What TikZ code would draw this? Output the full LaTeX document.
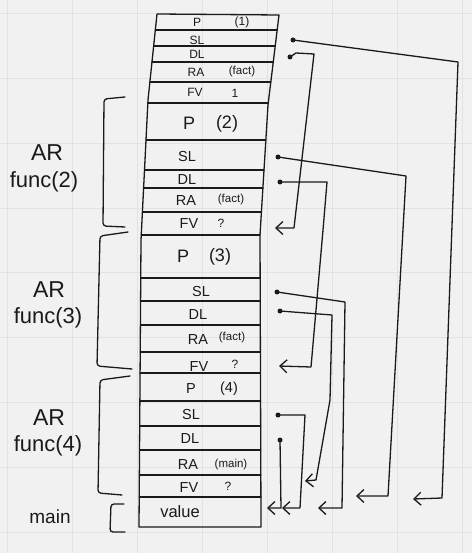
\documentclass[tikz,border=0pt]{standalone}
\usepackage{fontspec}
\setmainfont{Liberation Sans}
\usetikzlibrary{arrows.meta}
\definecolor{bgc}{HTML}{F1F1F1}
\definecolor{gridc}{HTML}{E2E2E2}
\definecolor{inkc}{HTML}{1A1A1A}
\begin{document}
\begin{tikzpicture}[x=1pt,y=-1pt,line join=round,line cap=round,
  stroke/.style={draw=inkc,line width=1.3pt},
  conn/.style={draw=inkc,line width=1.3pt},
  arr/.style={conn,-{Straight Barb[length=7pt,width=13pt]}},
  dotn/.style={circle,fill=inkc,inner sep=0pt,minimum size=5pt},
  txt/.style={inner sep=0pt,text=inkc},
  t1/.style={txt,font=\fontsize{12}{12}\selectfont},
  tm/.style={txt,font=\fontsize{14.5}{14.5}\selectfont},
  tp/.style={txt,font=\fontsize{18}{18}\selectfont},
  ts/.style={txt,font=\fontsize{11.5}{11.5}\selectfont},
  big/.style={txt,font=\fontsize{23}{23}\selectfont},
  mid/.style={txt,font=\fontsize{22}{22}\selectfont},
  brk/.style={stroke,rounded corners=3pt}]
\fill[bgc] (0,0) rectangle (472,553);
\useasboundingbox (0,0) rectangle (472,553);
% grid
\foreach \gx in {7,72,137,202,267,332,397,462}
  \draw[gridc,line width=0.8pt] (\gx,0) -- (\gx,553);
\foreach \gy in {13,78,143,208,272,337,402,467,532}
  \draw[gridc,line width=0.8pt] (0,\gy) -- (472,\gy);
% stack outline
\draw[stroke] (157,14) -- (279,15) -- (268,105) -- (260,235) -- (261,527)
  -- (139,527) -- (141,240) -- (148,100) -- cycle;
% row lines
\foreach \ry/\lx/\rx in {30/155.3/277.1,46/153.7/275.1,62/152/273.2,82/150.1/270.8,
  103/147.9/268.2,140/146/265.8,170/144.5/264,188/143.6/262.9,212/142.4/261.4,
  235/141.3/260,278/140.7/260.1,301/140.6/260.2,325/140.4/260.3,352/140.2/260.4,
  373/140.1/260.5,401/139.9/260.6,426/139.7/260.7,450/139.5/260.8,475/139.4/260.9,
  497/139.2/261}
  \draw[stroke] (\lx,\ry) -- (\rx,\ry);
% frame 1 texts
\node[t1] (f1p) at (197,22) {P};
\node[t1] (f1pn) at (242,22) {(1)};
\node[t1] (f1sl) at (197,40) {SL};
\node[t1] (f1dl) at (197,54) {DL};
\node[t1] (f1ra) at (196,72) {RA};
\node[ts] (f1rai) at (242,72) {(fact)};
\node[t1] (f1fv) at (195,92) {FV};
\node[t1] (f1fvv) at (235,93) {1};
% frame 2 texts
\node[tp] (f2p) at (189,123) {P};
\node[tp] (f2pn) at (227,124) {(2)};
\node[tm] (f2sl) at (187,157) {SL};
\node[tm] (f2dl) at (187,180) {DL};
\node[tm] (f2ra) at (186,201) {RA};
\node[ts] (f2rai) at (231,200) {(fact)};
\node[tm] (f2fv) at (189,224) {FV};
\node[t1] (f2fvv) at (221,223) {?};
% frame 3 texts
\node[tp] (f3p) at (183,256) {P};
\node[tp] (f3pn) at (220,257) {(3)};
\node[tm] (f3sl) at (201,292) {SL};
\node[tm] (f3dl) at (198,315) {DL};
\node[tm] (f3ra) at (198,340) {RA};
\node[ts] (f3rai) at (232,338) {(fact)};
\node[tm] (f3fv) at (199,367) {FV};
\node[t1] (f3fvv) at (235,364) {?};
% frame 4 texts
\node[tm] (f4p) at (191,389) {P};
\node[tm] (f4pn) at (229,389) {(4)};
\node[tm] (f4sl) at (191,415) {SL};
\node[tm] (f4dl) at (190,439) {DL};
\node[tm] (f4ra) at (188,465) {RA};
\node[ts] (f4rai) at (231,465) {(main)};
\node[tm] (f4fv) at (189,488) {FV};
\node[t1] (f4fvv) at (228,486) {?};
\node[txt,font=\fontsize{16.5}{16.5}\selectfont] (val) at (180,512) {value};
% left labels
\node[big] (ar2) at (47,153) {AR};
\node[mid] (fn2) at (44,182) {func(2)};
\node[big] (ar3) at (49,290) {AR};
\node[mid] (fn3) at (48,318) {func(3)};
\node[big] (ar4) at (49,418) {AR};
\node[mid] (fn4) at (48,446) {func(4)};
\node[txt,font=\fontsize{19}{19}\selectfont] (mainl) at (50,517) {main};
% brackets
\draw[brk] (125,97) -- (104,99) -- (103,226) -- (125,227);
\draw[brk] (128,232) -- (100,236) -- (97,366) -- (132,369);
\draw[brk] (130,376) -- (100,380) -- (98,493) -- (122,495);
\draw[brk] (124,504) -- (111,504) -- (110,532) -- (125,532);
% link dots
\node[dotn] (d1s) at (293,40) {};
\node[dotn] (d1d) at (290,57) {};
\node[dotn] (d2s) at (278,157) {};
\node[dotn] (d2d) at (280,182) {};
\node[dotn] (d3s) at (277,292) {};
\node[dotn] (d3d) at (280,311) {};
\node[dotn] (d4s) at (278,415) {};
\node[dotn] (d4d) at (280,440) {};
% arrow ends
\coordinate (e1s) at (413,499);
\coordinate (e1d) at (275,228);
\coordinate (e2s) at (356,496);
\coordinate (e2d) at (279,366);
\coordinate (e3s) at (318,508);
\coordinate (e3d) at (305,481);
\coordinate (e4s) at (282,508);
\coordinate (e4d) at (267,508);
% connectors
\draw[arr] (d1s.center) -- (458,62) -- (442,498) -- (e1s);
\draw[arr] (d1d.center) -- (296,53) -- (314,54) -- (294,228) -- (e1d);
\draw[arr] (d2s.center) -- (406,176) -- (388,496) -- (e2s);
\draw[arr] (d2d.center) -- (327,182) -- (323,230) -- (311,367) -- (e2d);
\draw[arr] (d3s.center) -- (345,302) -- (342,508) -- (e3s);
\draw[arr] (d3d.center) -- (332,315) -- (330,400) -- (316,480) -- (e3d);
\draw[arr] (d4s.center) -- (305,415) -- (300,508) -- (e4s);
\draw[arr] (d4d.center) -- (281,508) -- (e4d);
\end{tikzpicture}
\end{document}
